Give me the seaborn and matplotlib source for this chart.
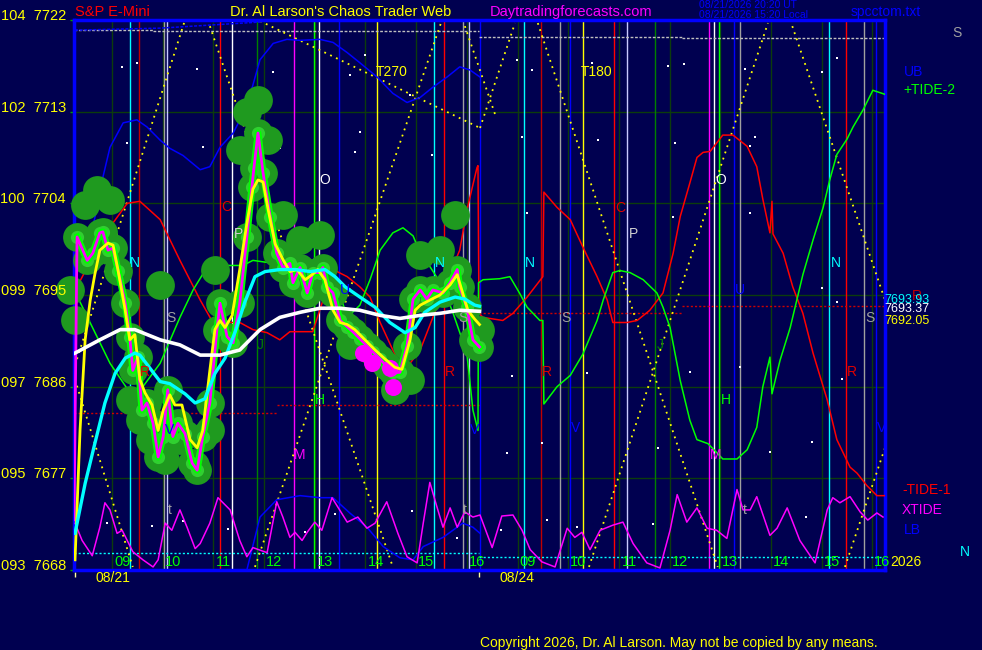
import matplotlib
matplotlib.use("Agg")
import matplotlib.pyplot as plt
import pandas as pd
import seaborn as sns

BG = "#000050"
plt.rcParams["font.family"] = ["Liberation Sans", "DejaVu Sans"]

# x axis = session hours, 0 = 08:15 on 08/21, 8 = 08:15 on 08/24
price_t = [0.00, 0.06, 0.26, 0.37, 0.51, 0.57, 0.67, 0.77, 0.87, 1.01,
           1.10, 1.16, 1.26, 1.34, 1.44, 1.56, 1.66, 1.76, 1.85, 1.95,
           2.05, 2.19, 2.33, 2.43, 2.54, 2.68, 2.82, 2.88, 3.02, 3.14,
           3.27, 3.41, 3.51, 3.55, 3.63, 3.73, 3.87, 4.00, 4.12, 4.26,
           4.32, 4.46, 4.60, 4.71, 4.85, 4.91, 4.99, 5.11, 5.25, 5.39,
           5.50, 5.64, 5.78, 5.90, 6.04, 6.17, 6.29, 6.43, 6.57, 6.69,
           6.83, 6.96, 7.08, 7.28, 7.42, 7.56, 7.61, 7.75, 7.87, 8.00]
price_raw = [7672.9, 7700.7, 7698.4, 7699.1, 7701.1, 7701.2, 7699.4, 7699.6, 7697.4, 7694.2,
             7690.9, 7687.6, 7688.9, 7683.7, 7684.4, 7682.4, 7679.1, 7681.1, 7685.7, 7681.1,
             7682.4, 7681.4, 7678.5, 7677.8, 7681.1, 7684.4, 7691.6, 7694.2, 7690.9, 7690.3,
             7694.2, 7700.7, 7705.6, 7707.5, 7710.9, 7707.0, 7702.7, 7699.1, 7697.7, 7698.1,
             7696.2, 7697.7, 7695.2, 7697.2, 7697.2, 7697.7, 7695.8, 7695.2, 7692.5, 7691.9,
             7691.4, 7690.7, 7690.0, 7689.4, 7688.7, 7688.0, 7687.4, 7687.4, 7690.0, 7694.6,
             7695.5, 7694.6, 7695.5, 7695.2, 7696.2, 7697.5, 7695.8, 7693.8, 7690.6, 7689.9]

# bar highs / lows that widen the green blobs
blob_t = [0.22, 0.45, 0.71, 3.27, 3.41, 3.63, 3.83, 4.12, 4.46, 4.85, 6.83, 7.22, 7.52, 2.78, 1.70,
          -0.08, 0.02, 1.10, 1.50, 1.80, 2.39, 2.68, 5.44, 6.33, 6.63, 7.91, 8.01, 1.30, 2.09]
blob_p = [7703.8, 7705.3, 7704.3, 7709.2, 7713.0, 7714.1, 7710.2, 7702.9, 7700.4, 7700.9, 7698.9, 7699.4,
          7702.9, 7697.5, 7696.0, 7695.5, 7692.5, 7684.7, 7680.8, 7678.8, 7678.3, 7681.7, 7690.1, 7685.7,
          7686.7, 7690.1, 7691.6, 7682.7, 7680.8]

lowdot_t = [5.70, 5.88, 6.23, 6.29]
lowdot_p = [7689.3, 7688.3, 7687.8, 7686.0]

yel_t = [0.02, 0.12, 0.22, 0.32, 0.41, 0.51, 0.67, 0.77, 0.87, 1.01, 1.10, 1.20, 1.30, 1.40, 1.54,
         1.66, 1.76, 1.89, 1.99, 2.13, 2.29, 2.43, 2.54, 2.68, 2.78, 2.88, 2.98, 3.12, 3.27, 3.41,
         3.53, 3.63, 3.73, 3.83, 3.97, 4.12, 4.26, 4.40, 4.56, 4.70, 4.81, 4.95, 5.11, 5.25, 5.39,
         5.54, 5.74, 5.94, 6.14, 6.33, 6.47, 6.63, 6.73, 6.83, 7.02, 7.22, 7.42, 7.56, 7.65, 7.77,
         7.91, 8.00]
yel_p = [7669.0, 7681.8, 7690.6, 7694.5, 7697.0, 7699.4, 7700.1, 7699.9, 7697.4, 7693.5, 7690.6,
         7691.1, 7686.7, 7685.4, 7684.2, 7681.7, 7683.7, 7685.2, 7684.2, 7684.2, 7680.8, 7680.0,
         7681.7, 7687.6, 7691.6, 7692.5, 7691.8, 7693.0, 7697.5, 7702.0, 7705.4, 7706.3, 7706.1,
         7703.4, 7700.0, 7698.5, 7697.3, 7697.5, 7696.5, 7697.0, 7697.5, 7696.5, 7693.5, 7692.3,
         7692.1, 7691.6, 7690.6, 7689.6, 7688.7, 7687.9, 7687.7, 7690.6, 7693.5, 7694.0, 7694.5,
         7695.0, 7696.0, 7697.0, 7695.5, 7693.5, 7692.6, 7692.1]

cyan_t = [0.02, 0.22, 0.41, 0.61, 0.81, 1.01, 1.20, 1.30, 1.50, 1.70, 1.89, 2.19, 2.39, 2.58, 2.78,
          2.98, 3.18, 3.37, 3.57, 3.77, 4.06, 4.36, 4.66, 4.95, 5.15, 5.35, 5.64, 5.94, 6.23, 6.53,
          6.73, 6.92, 7.22, 7.52, 7.71, 7.91, 8.00]
cyan_p = [7671.6, 7676.5, 7680.4, 7684.4, 7687.3, 7688.8, 7689.3, 7689.1, 7687.8, 7686.5, 7686.3,
          7685.3, 7684.4, 7684.8, 7687.3, 7688.8, 7691.4, 7694.3, 7696.8, 7697.3, 7697.5, 7697.5,
          7697.3, 7697.5, 7696.8, 7695.8, 7694.8, 7693.8, 7692.3, 7691.3, 7691.8, 7693.3, 7694.3,
          7694.8, 7694.6, 7694.0, 7693.9]

white_t = [0.02, 0.51, 0.91, 1.20, 1.70, 2.09, 2.49, 2.88, 3.27, 3.67, 4.06, 4.46, 4.85, 5.25,
           5.64, 6.04, 6.43, 6.83, 7.22, 7.61, 8.00]
white_p = [7689.3, 7690.6, 7691.6, 7691.6, 7690.6, 7690.1, 7689.1, 7689.1, 7689.6, 7691.6, 7692.8,
           7693.3, 7693.7, 7693.7, 7693.5, 7693.0, 7692.7, 7693.0, 7693.2, 7693.5, 7693.4]

tide1_t = [0.06, 0.57, 1.05, 1.30, 1.70, 2.09, 2.49, 2.74, 3.27, 3.53, 3.81, 4.06, 4.26, 4.71, 5.11,
           5.39, 5.64, 5.84, 6.04, 6.29, 6.43, 6.63, 6.83, 7.08, 7.28, 7.61, 7.75, 7.95, 7.97, 7.99,
           8.07, 8.46, 8.66, 8.94, 9.25, 9.27, 9.53, 9.79, 10.04, 10.32, 10.52, 10.63, 10.91, 11.11,
           11.36, 11.62, 11.82, 11.96, 12.15, 12.29, 12.41, 12.55, 12.80, 13.00, 13.28, 13.47, 13.59,
           13.73, 13.77, 13.79, 13.99, 14.18, 14.38, 14.58, 14.86, 15.05, 15.31, 15.45, 15.64, 15.84,
           16.00]
tide1_p = [7695.8, 7700.7, 7704.0, 7704.2, 7702.4, 7698.4, 7694.5, 7692.3, 7692.3, 7691.6, 7691.3,
           7690.6, 7691.4, 7691.4, 7697.5, 7696.8, 7695.8, 7694.8, 7692.3, 7689.6, 7688.3, 7688.3,
           7689.6, 7692.8, 7695.5, 7699.4, 7703.3, 7707.5, 7707.7, 7693.2, 7692.8, 7692.5, 7693.2,
           7694.8, 7696.8, 7705.1, 7703.6, 7702.4, 7699.7, 7696.8, 7694.5, 7692.3, 7692.3, 7692.5,
           7693.5, 7695.2, 7699.1, 7702.7, 7706.0, 7708.5, 7709.0, 7709.1, 7710.7, 7710.7, 7709.6,
           7707.6, 7704.4, 7701.1, 7704.2, 7701.0, 7699.1, 7695.8, 7693.2, 7689.3, 7684.7, 7680.8,
           7678.1, 7677.5, 7676.3, 7675.3, 7675.3]

tide2_t = [0.12, 0.71, 1.05, 1.30, 1.70, 2.09, 2.35, 2.62, 2.94, 3.33, 3.53, 3.81, 4.06, 4.32, 4.85,
           5.25, 5.39, 5.64, 5.84, 6.04, 6.29, 6.49, 6.69, 6.83, 7.02, 7.28, 7.48, 7.75, 7.87, 7.97,
           7.98, 8.07, 8.40, 8.60, 8.80, 8.94, 9.19, 9.25, 9.27, 9.53, 9.79, 10.04, 10.32, 10.44,
           10.63, 10.77, 10.97, 11.23, 11.50, 11.62, 11.76, 11.96, 12.15, 12.29, 12.51, 12.80, 13.08,
           13.28, 13.47, 13.59, 13.73, 13.77, 13.93, 14.13, 14.26, 14.38, 14.58, 14.78, 14.91, 15.05,
           15.25, 15.37, 15.57, 15.76, 16.00]
tide2_p = [7694.3, 7688.3, 7685.8, 7685.6, 7688.3, 7692.8, 7695.5, 7697.7, 7697.9, 7697.9, 7698.4,
           7698.2, 7698.7, 7698.6, 7697.7, 7695.0, 7692.8, 7694.0, 7696.5, 7699.4, 7701.1, 7701.6,
           7700.8, 7699.1, 7697.8, 7695.8, 7693.2, 7689.3, 7683.7, 7681.7, 7696.2, 7696.5, 7696.6,
           7696.8, 7695.1, 7693.8, 7692.5, 7692.5, 7684.3, 7686.0, 7687.1, 7689.2, 7692.5, 7694.5,
           7697.2, 7697.4, 7697.2, 7696.5, 7695.2, 7693.8, 7691.8, 7686.6, 7682.7, 7680.8, 7680.4,
           7678.9, 7678.9, 7679.8, 7682.0, 7686.0, 7688.9, 7685.3, 7688.6, 7691.8, 7694.5, 7697.0,
           7700.4, 7703.6, 7706.3, 7708.8, 7710.3, 7711.5, 7713.2, 7715.1, 7714.7]

xtide_t = [0.02, 0.16, 0.36, 0.51, 0.61, 0.71, 0.85, 0.95, 1.05, 1.16, 1.36, 1.56, 1.66, 1.80, 1.93,
           2.09, 2.23, 2.39, 2.49, 2.68, 2.84, 3.08, 3.27, 3.41, 3.53, 3.81, 4.00, 4.12, 4.26, 4.36,
           4.50, 4.60, 4.75, 4.89, 5.09, 5.39, 5.60, 5.78, 5.94, 6.17, 6.39, 6.57, 6.77, 6.89, 7.02,
           7.16, 7.28, 7.42, 7.56, 7.71, 7.87, 8.01, 8.25, 8.44, 8.66, 8.84, 9.00, 9.23, 9.49, 9.73,
           9.88, 10.02, 10.18, 10.38, 10.63, 10.83, 11.03, 11.30, 11.56, 11.76, 11.90, 12.09, 12.29,
           12.49, 12.68, 12.88, 13.08, 13.20, 13.34, 13.47, 13.73, 13.87, 14.07, 14.32, 14.62, 14.86,
           14.97, 15.11, 15.31, 15.51, 15.66, 15.84, 15.96]
xtide_p = [7672.6, 7670.9, 7669.4, 7672.2, 7674.6, 7673.9, 7671.6, 7671.9, 7670.9, 7669.8, 7669.0,
           7668.3, 7669.0, 7672.6, 7671.9, 7673.9, 7672.2, 7670.1, 7670.6, 7672.6, 7675.1, 7673.9,
           7670.9, 7669.3, 7670.2, 7669.7, 7674.7, 7673.2, 7671.2, 7671.7, 7670.9, 7671.7, 7672.7,
           7671.9, 7675.1, 7672.7, 7673.2, 7672.1, 7672.6, 7674.7, 7671.6, 7669.3, 7668.7, 7672.6,
           7676.6, 7674.2, 7672.2, 7674.1, 7672.2, 7673.7, 7673.2, 7673.4, 7670.2, 7673.3, 7673.4,
           7671.9, 7670.0, 7668.8, 7668.3, 7672.1, 7671.2, 7671.7, 7670.0, 7671.9, 7672.4, 7672.7,
           7670.6, 7668.7, 7668.2, 7671.9, 7675.4, 7672.7, 7674.1, 7672.1, 7671.9, 7671.1, 7675.9,
           7673.9, 7673.9, 7675.2, 7671.4, 7672.1, 7674.1, 7670.9, 7668.7, 7673.9, 7675.1, 7674.6,
           7675.2, 7673.7, 7672.9, 7673.6, 7673.2]

ub_t = [0.30, 0.45, 0.51, 0.71, 0.97, 1.24, 1.44, 1.70, 1.89, 2.15, 2.49, 2.68, 2.88, 3.14, 3.41,
        3.67, 3.93, 4.20, 4.46, 4.85, 5.11, 5.39, 5.64, 5.98, 6.29, 6.57, 6.83, 7.08, 7.36, 7.61,
        7.81, 8.01]
ub_p = [7700.0, 7703.5, 7705.3, 7709.5, 7711.9, 7712.2, 7711.5, 7710.2, 7709.4, 7708.7, 7707.3,
        7707.6, 7709.5, 7710.9, 7713.5, 7718.1, 7719.7, 7720.1, 7720.0, 7720.1, 7719.8, 7718.8,
        7717.8, 7716.4, 7714.8, 7713.9, 7714.4, 7715.4, 7716.4, 7717.4, 7717.1, 7716.4]
ub2_t = [0.02, 1.70, 2.68, 3.67]
ub2_p = [7721.0, 7721.2, 7721.5, 7721.8]

lb_t = [3.41, 3.67, 4.00, 4.46, 4.85, 5.11, 5.44, 5.78, 6.10, 6.43, 6.69, 6.89, 7.28, 7.67, 7.87, 8.01]
lb_p = [7668.0, 7673.2, 7674.9, 7675.3, 7675.1, 7675.1, 7673.6, 7672.2, 7670.3, 7669.2, 7669.0,
        7670.3, 7671.2, 7672.6, 7672.2, 7671.6]

# dotted levels: (start, end, price)
reddot = [(0.0, 4.0, 7683.4), (4.0, 8.0, 7684.2), (8.0, 12.0, 7693.2), (12.0, 16.0, 7693.9)]
graydot = [(0.0, 1.56, 7721.0), (1.56, 8.0, 7720.9), (8.0, 12.0, 7720.3), (12.0, 16.0, 7720.2)]
cyandot = [(0.0, 8.0, 7669.7), (8.0, 16.0, 7669.3)]

# yellow dotted time/price cycle lines
tri_t0 = [0.02, 0.02, 2.64, 3.57, 3.67, 7.67, 8.01, 9.15, 10.16, 14.13, 15.21]
tri_p0 = [7686.7, 7688.1, 7722.0, 7668.3, 7721.9, 7722.0, 7711.4, 7721.7, 7668.3, 7722.0, 7668.3]
tri_t1 = [1.16, 2.19, 6.29, 7.26, 8.01, 8.31, 8.70, 12.70, 13.69, 16.00, 16.00]
tri_p1 = [7668.3, 7722.0, 7668.3, 7722.0, 7711.4, 7712.7, 7721.7, 7668.3, 7721.7, 7694.5, 7680.0]

vline_t = [1.10, 1.28, 1.78, 1.83, 2.88, 3.12, 3.61, 4.34, 4.73, 4.83, 5.23, 5.98, 7.10, 7.30, 7.67,
           7.79, 8.01, 8.88, 9.21, 9.59, 9.79, 10.04, 10.65, 10.91, 11.46, 12.53, 12.63, 12.72,
           13.02, 13.14, 14.89, 15.23, 15.59, 15.82]
vline_c = ["#00ffff", "#c00000", "#a0a0a0", "#c8c8ff", "#ff0000", "#ffffff", "#008000", "#ff00ff",
           "#00ff00", "#ffffff", "#0000ff", "#ffff00", "#00ffff", "#ff0000", "#a0a0a0", "#c8c8ff",
           "#0000ff", "#00ffff", "#c00000", "#a0a0a0", "#0000ff", "#ffff00", "#ff0000", "#c8c8ff",
           "#008000", "#ff00ff", "#ffffff", "#00ff00", "#0000ff", "#a0a0a0", "#00ffff", "#ff0000",
           "#a0a0a0", "#0000ff"]

stars_t = [0.95, 1.24, 2.43, 3.93, 1.05, 2.54, 4.06, 5.54, 5.74, 5.44, 5.64, 7.06, 6.63, 9.04, 8.74,
           10.22, 11.72, 12.03, 13.24, 13.43, 14.76, 15.05, 8.84, 10.34, 11.86, 13.34, 8.94, 11.82,
           13.34, 14.76, 15.05, 8.64, 10.12, 12.15, 13.14, 15.15, 9.23, 8.54, 11.52, 13.73, 14.56,
           0.65, 1.54, 2.15, 3.04, 4.56, 5.15, 6.67, 7.56, 9.33, 9.92, 11.42, 14.44, 8.42]
stars_p = [7717.4, 7717.8, 7717.2, 7716.9, 7709.9, 7709.5, 7709.4, 7709.0, 7718.6, 7716.6, 7711.0,
           7708.7, 7714.6, 7717.1, 7718.1, 7717.8, 7717.5, 7717.7, 7717.2, 7710.5, 7716.9, 7718.3,
           7710.5, 7710.2, 7709.9, 7709.6, 7703.1, 7702.7, 7703.1, 7695.7, 7694.3, 7687.0, 7687.3,
           7687.4, 7687.9, 7686.8, 7680.5, 7679.5, 7680.0, 7679.6, 7680.6, 7672.6, 7672.3, 7672.8,
           7672.0, 7671.7, 7673.5, 7673.8, 7671.1, 7672.9, 7672.2, 7672.5, 7673.2, 7671.9]

letters = ["N", "S", "R", "C", "P", "O", "J", "H", "M", "U", "V", "R", "N", "S", "V", "t", "t",
           "N", "S", "R", "C", "P", "O", "J", "H", "M", "U", "N", "S", "R", "V", "V", "t"]
letter_t = [1.20, 1.91, 1.40, 3.00, 3.24, 4.95, 3.67, 4.85, 4.46, 5.35, 1.89, 7.42, 7.22, 7.67, 7.91,
            1.89, 7.71, 9.00, 9.71, 9.33, 10.77, 11.03, 12.76, 11.56, 12.86, 12.66, 13.14, 15.03,
            15.70, 15.35, 9.90, 15.94, 13.24]
letter_p = [7698.1, 7692.7, 7687.4, 7703.6, 7701.0, 7706.3, 7690.1, 7684.7, 7679.3, 7695.5, 7681.7,
            7687.4, 7698.1, 7692.7, 7681.7, 7673.9, 7673.9, 7698.1, 7692.7, 7687.4, 7703.5, 7701.0,
            7706.3, 7690.1, 7684.7, 7679.3, 7695.5, 7698.1, 7692.7, 7687.4, 7681.9, 7681.9, 7673.9]
letter_c = {"N": "#00ffff", "S": "#a0a0a0", "R": "#e00000", "C": "#e00000", "P": "#d0d0d0",
            "O": "#ffffff", "J": "#008000", "H": "#00ff00", "M": "#ff00ff", "U": "#0000ff",
            "V": "#0000ff", "t": "#a0a0a0"}

hour_labels = ["09", "10", "11", "12", "13", "14", "15", "16"]
hour_grid = [0.75, 1.75, 2.75, 3.75, 4.75, 5.75, 6.75, 7.75,
             8.75, 9.75, 10.75, 11.75, 12.75, 13.75, 14.75, 15.75]
idx_labels = ["104", "102", "100", "099", "097", "095", "093"]
price_levels = [7722, 7713, 7704, 7695, 7686, 7677, 7668]


def line(ax, t, p, color, lw=1.0, ls="-", z=3):
    sns.lineplot(x=t, y=p, ax=ax, color=color, lw=lw, linestyle=ls, estimator=None,
                 sort=False, zorder=z, legend=False)


def ftext(fig, px, py, s, color, size=10, ha="left"):
    fig.text(px / 982, 1 - py / 650, s, color=color, fontsize=size, ha=ha, va="center")


if __name__ == "__main__":
    fig = plt.figure(figsize=(9.82, 6.5), dpi=100, facecolor=BG)
    ax = fig.add_axes([74 / 982, 80 / 650, 811 / 982, 550 / 650])
    ax.set_facecolor(BG)
    ax.set_xlim(0, 16)
    ax.set_ylim(7668, 7722)

    # grid
    ax.vlines(hour_grid, 7668, 7722, color="#0c3c0c", lw=1, zorder=1)
    ax.hlines(price_levels[1:-1], 0, 16, color="#0c3c0c", lw=1, zorder=1)
    ax.vlines(vline_t, 7668, 7722, colors=vline_c, lw=1.0, zorder=1.5)

    # background stars
    sns.scatterplot(x=stars_t, y=stars_p, ax=ax, color="white", s=3, marker="s",
                    linewidth=0, zorder=1.6, legend=False)

    # dotted levels
    for a, b, p in reddot:
        line(ax, [a, b], [p, p], "#d00000", 1.0, (0, (1.5, 1.5)), 2)
    for a, b, p in graydot:
        line(ax, [a, b], [p, p], "#c0c0c0", 1.0, (0, (2, 1.2)), 2)
    for a, b, p in cyandot:
        line(ax, [a, b], [p, p], "#00ffff", 1.0, (0, (1.5, 1.5)), 2)
    for t0, p0, t1, p1 in zip(tri_t0, tri_p0, tri_t1, tri_p1):
        line(ax, [t0, t1], [p0, p1], "#ffff00", 1.3, (0, (1, 2.6)), 2)

    # bands and tides
    line(ax, ub_t, ub_p, "#0000ff", 1.1)
    line(ax, ub2_t, ub2_p, "#0000ff", 1.1, (0, (2, 1)))
    line(ax, lb_t, lb_p, "#0000ff", 1.1)
    line(ax, xtide_t, xtide_p, "#ff00ff", 1.1)
    line(ax, tide1_t, tide1_p, "#ff0000", 1.1)
    line(ax, tide2_t, tide2_p, "#00ff00", 1.1)

    # price blobs
    bt = price_t[1:] + blob_t
    bp = price_raw[1:] + blob_p
    sns.scatterplot(x=bt, y=bp, ax=ax, color="#1f9a1f", s=430, linewidth=0,
                    zorder=4, legend=False, clip_on=False)
    sns.scatterplot(x=price_t[1:], y=price_raw[1:], ax=ax, color="#30d030", s=90,
                    linewidth=0, zorder=4.1, legend=False, clip_on=False)
    line(ax, price_t[1:], price_raw[1:], "#00ff00", 5.0, z=4.2)
    sns.scatterplot(x=lowdot_t, y=lowdot_p, ax=ax, color="#ff00ff", s=150,
                    linewidth=0, zorder=4.3, legend=False)
    line(ax, price_t, price_raw, "#ff00ff", 2.0, z=5)
    line(ax, yel_t, yel_p, "#ffff00", 2.0, z=6)
    line(ax, cyan_t, cyan_p, "#00ffff", 2.4, z=6)
    line(ax, white_t, white_p, "#ffffff", 2.6, z=6)

    for s, t, p in zip(letters, letter_t, letter_p):
        ax.text(t, p, s, color=letter_c[s], fontsize=10, ha="center", va="center", zorder=7)
    ax.text(5.95, 7716.9, "T270", color="#ffff00", fontsize=10, ha="left", va="center", zorder=7)
    ax.text(10.0, 7716.9, "T180", color="#ffff00", fontsize=10, ha="left", va="center", zorder=7)

    for d in range(2):
        for h, lab in zip(hour_grid[:8], hour_labels):
            ax.text(h + 8 * d + 0.2, 7668.8, lab, color="#00ff00", fontsize=10.5,
                    ha="center", va="center", zorder=7)

    # frame
    for sp in ax.spines.values():
        sp.set_color("#0000ff")
        sp.set_linewidth(2.5)
    ax.set_xticks([])
    ax.set_yticks([])
    ax.set_xlabel("")
    ax.set_ylabel("")
    ax.hlines(price_levels, -0.07, 0, color="#00a000", lw=1, clip_on=False)
    ax.vlines([0.02, 8.0], 7667.3, 7667.8, color="#ffffa0", lw=1, clip_on=False)

    for lab, lev in zip(idx_labels, price_levels):
        py = 20 + (7722 - lev) / 54 * 550 - 4
        ftext(fig, 66, py, f"{lab}  {lev}", "#ffff00", 10.5, ha="right")

    ftext(fig, 75, 12, "S&P E-Mini", "#ff0000", 10.5)
    ftext(fig, 230, 12, "Dr. Al Larson's Chaos Trader Web", "#ffff00", 10.5)
    ftext(fig, 490, 12, "Daytradingforecasts.com", "#ff00ff", 10.5)
    ftext(fig, 699, 5, "08/21/2026 20:20 UT", "#0000ff", 7.5)
    ftext(fig, 699, 15, "08/21/2026 15:20 Local", "#0000ff", 7.5)
    ftext(fig, 851, 12, "spcctom.txt", "#0000ff", 10)

    ftext(fig, 957, 33, "S", "#a0a0a0", 10, ha="center")
    ftext(fig, 904, 72, "UB", "#0000ff", 10)
    ftext(fig, 903, 90, "+TIDE-2", "#00ff00", 10)
    ftext(fig, 917, 296, "R", "#c00000", 10, ha="center")
    ftext(fig, 884, 300, "7693.93", "#00ffff", 9)
    ftext(fig, 884, 309, "7693.37", "#ffffff", 9)
    ftext(fig, 884, 321, "7692.05", "#ffff00", 9)
    ftext(fig, 902, 490, "-TIDE-1", "#ff0000", 10)
    ftext(fig, 902, 510, "XTIDE", "#ff00ff", 10)
    ftext(fig, 904, 530, "LB", "#0000ff", 10)
    ftext(fig, 965, 552, "N", "#00ffff", 10, ha="center")
    ftext(fig, 890, 562, "2026", "#ffff00", 10)

    ftext(fig, 96, 578, "08/21", "#ffff00", 10)
    ftext(fig, 500, 578, "08/24", "#ffff00", 10)
    ftext(fig, 480, 643, "Copyright 2026, Dr. Al Larson. May not be copied by any means.", "#ffff00", 10)

    fig.savefig("out.png", dpi=100, facecolor=BG)
